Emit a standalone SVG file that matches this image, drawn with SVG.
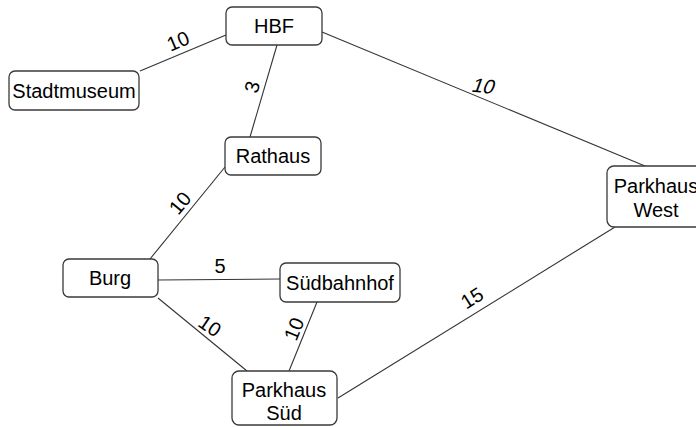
<svg xmlns="http://www.w3.org/2000/svg" width="696" height="427" viewBox="0 0 696 427">
  <style>
    .node rect { fill: #ffffff; stroke: #3a3a3a; stroke-width: 1.3; }
    .node text { font-family: "Liberation Sans", Arial, sans-serif; font-size: 20px; fill: #000; text-anchor: middle; }
    .edges line { stroke: #333333; stroke-width: 1.1; }
    .lbl { font-family: "Liberation Sans", Arial, sans-serif; font-size: 20px; fill: #000; text-anchor: middle; }
  </style>
  <rect width="696" height="427" fill="#ffffff"/>

  <g id="edges" class="edges">
    <line x1="140" y1="71" x2="226" y2="35"/>
    <line x1="277" y1="45" x2="250" y2="137"/>
    <line x1="322" y1="32" x2="645" y2="166"/>
    <line x1="225" y1="167" x2="150" y2="259"/>
    <line x1="158" y1="280" x2="280" y2="279"/>
    <line x1="158" y1="298" x2="247" y2="371"/>
    <line x1="317" y1="302" x2="289" y2="371"/>
    <line x1="338" y1="398" x2="615" y2="227"/>
  </g>

  <g id="edge-labels">
    <text class="lbl" transform="translate(178,41) rotate(-23)" y="7">10</text>
    <text class="lbl" transform="translate(252,87) rotate(-74)" y="7">3</text>
    <text class="lbl" transform="translate(484,86) rotate(6) skewX(-14)" y="7">10</text>
    <text class="lbl" transform="translate(180,203) rotate(-50)" y="7">10</text>
    <text class="lbl" transform="translate(220,266)" y="7">5</text>
    <text class="lbl" transform="translate(210,326) rotate(34)" y="7">10</text>
    <text class="lbl" transform="translate(294,329) rotate(-68)" y="7">10</text>
    <text class="lbl" transform="translate(472,298) rotate(-32)" y="7">15</text>
  </g>

  <g id="hbf" class="node">
    <rect x="226" y="7" width="96" height="38" rx="6"/>
    <text x="274" y="33">HBF</text>
  </g>
  <g id="stadtmuseum" class="node">
    <rect x="9" y="71" width="130" height="39" rx="6"/>
    <text x="74" y="98">Stadtmuseum</text>
  </g>
  <g id="rathaus" class="node">
    <rect x="225" y="137" width="96" height="38" rx="6"/>
    <text x="273" y="163">Rathaus</text>
  </g>
  <g id="burg" class="node">
    <rect x="63" y="259" width="95" height="38" rx="6"/>
    <text x="110" y="285">Burg</text>
  </g>
  <g id="suedbahnhof" class="node">
    <rect x="280" y="263" width="120" height="39" rx="6"/>
    <text x="340" y="290">Südbahnhof</text>
  </g>
  <g id="parkhaus-sued" class="node">
    <rect x="232" y="371" width="105" height="54" rx="7"/>
    <text x="284" y="397">Parkhaus</text>
    <text x="284" y="420">Süd</text>
  </g>
  <g id="parkhaus-west" class="node">
    <rect x="607" y="166" width="98" height="61" rx="7"/>
    <text x="656" y="193">Parkhaus</text>
    <text x="656" y="217">West</text>
  </g>
</svg>
